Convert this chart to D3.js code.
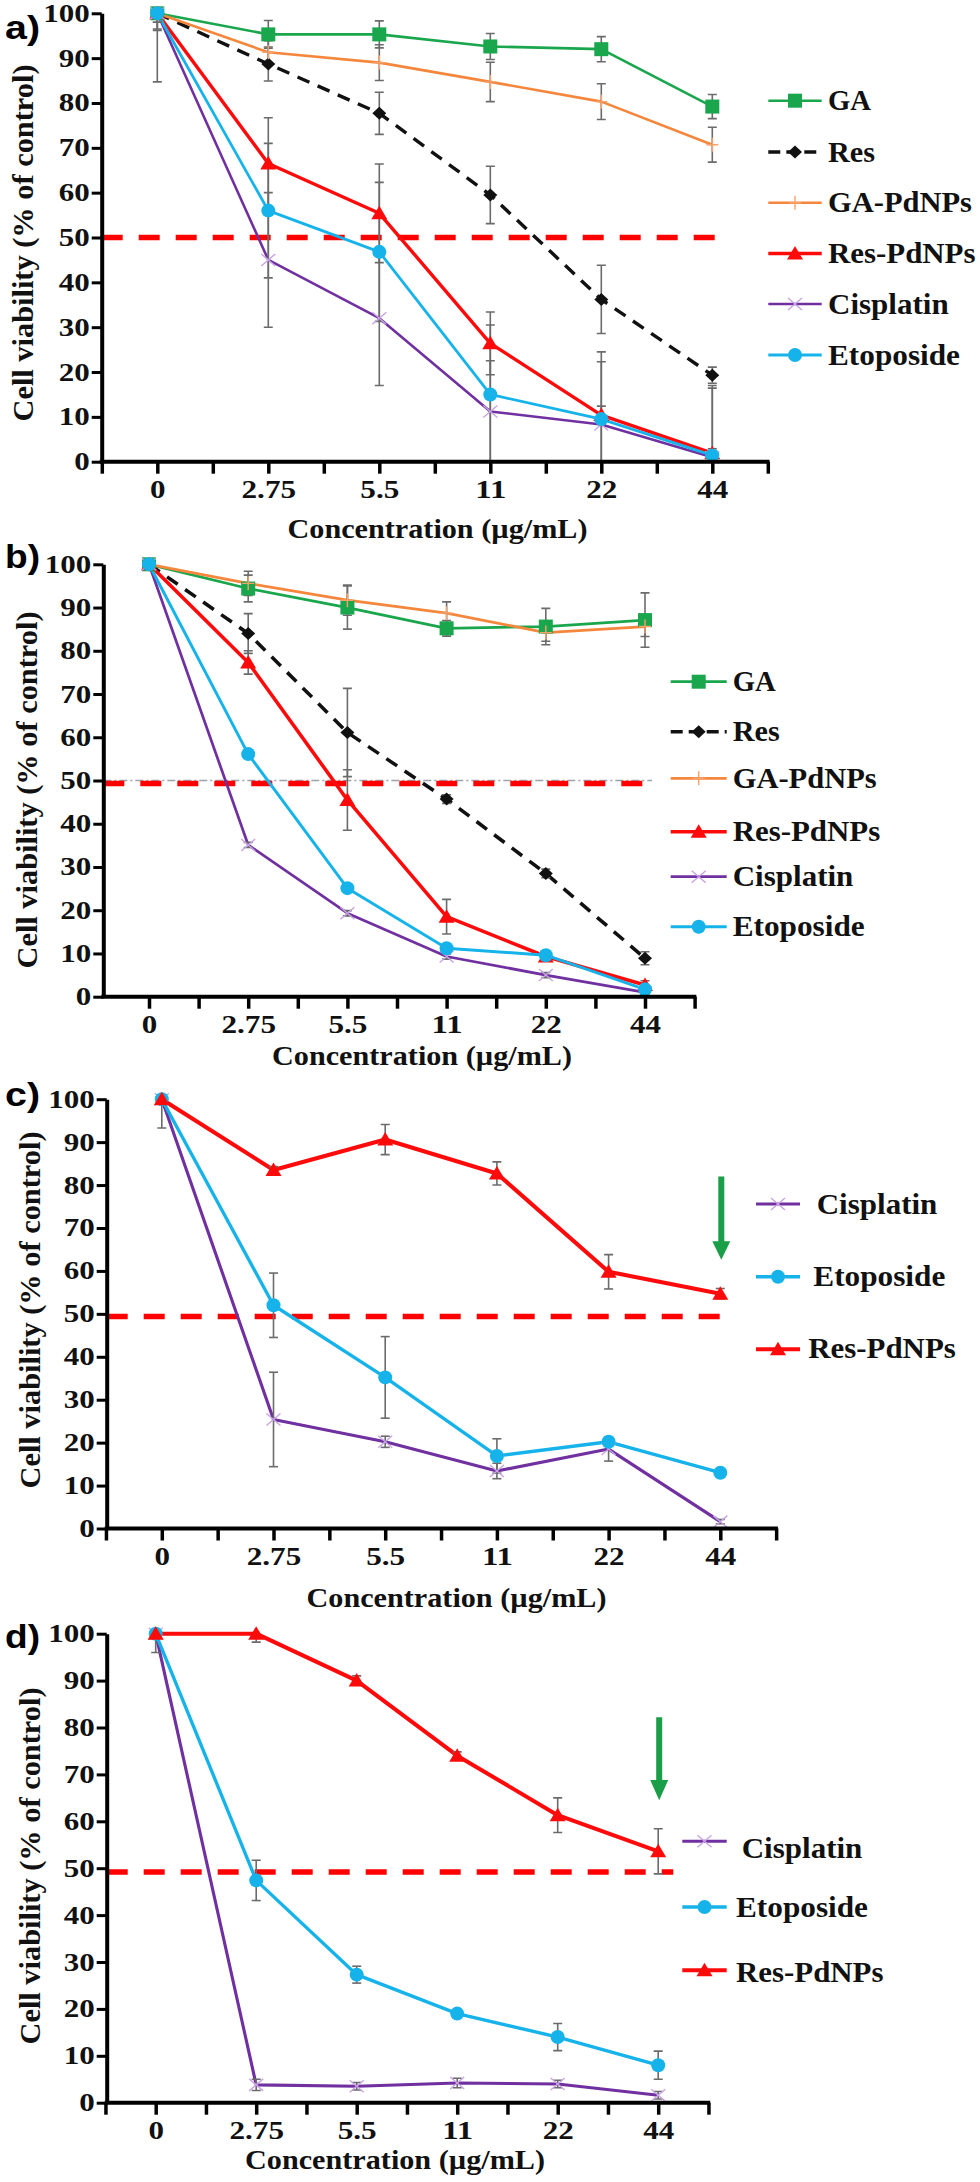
<!DOCTYPE html>
<html>
<head>
<meta charset="utf-8">
<script src="https://cdn.jsdelivr.net/npm/d3@7"></script>
<style>
  body { margin: 0; background: #fff; }
</style>
</head>
<body>
<div id="chart"></div>
<script>
// ---- data ----
const concentrations = ["0", "2.75", "5.5", "11", "22", "44"];
const yTickValues = [0, 10, 20, 30, 40, 50, 60, 70, 80, 90, 100];

// panel a
const aGA      = [100, 95.3, 95.3, 92.6, 92, 79.2];
const aGA_sd   = [3.5, 3.1, 3, 2.9, 2.8, 2.7];
const aRes     = [100, 88.7, 77.7, 59.5, 36.2, 19.3];
const aRes_sd  = [3.8, 3.8, 4.7, 6.4, 7.6, 1.8];
const aGAPd    = [100, 91.3, 89, 84.7, 80.3, 70.7];
const aGAPd_sd = [2, 2.6, 4, 4.4, 4, 3.9];
const aResPd   = [100, 66.5, 55.4, 26.4, 10.4, 1.9];
const aResPd_sd = [1, 10.2, 11, 7, 2, 1];
const aCis     = [100, 45, 32, 11.2, 8.3, 1];
const aCis_sd  = [15.3, 15, 15, 11.3, 14, 16];
const aEto     = [100, 56, 46.8, 15, 9.5, 1.4];
const aEto_sd  = [2, 15, 15.5, 15.5, 15, 15];

// panel b
const bGA      = [100, 94.4, 90, 85.2, 85.6, 87.1];
const bGA_sd   = [1, 3.1, 5, 1.8, 4.2, 6.3];
const bRes     = [100, 84, 61.1, 45.7, 28.5, 8.9];
const bRes_sd  = [1, 4.6, 10.2, 1, 1, 1.5];
const bGAPd    = [100, 95.6, 91.7, 88.7, 84.2, 85.6];
const bGAPd_sd = [1, 2.8, 3.5, 2.6, 2, 2.3];
const bResPd   = [100, 77.3, 45.5, 18.5, 9.3, 2.7];
const bResPd_sd = [1, 2.7, 7, 4, 1, 1];
const bCis     = [100, 35.1, 19.3, 9.3, 5, 1];
const bCis_sd  = [1, 0.6, 0.6, 0.6, 0.6, 0.6];
const bEto     = [100, 56.1, 25.1, 11.2, 9.6, 1.7];
const bEto_sd  = [1, 0.6, 0.6, 0.6, 0.6, 0.6];

// panel c
const cCis     = [100, 25.4, 20.2, 13.4, 18.5, 1.6];
const cCis_sd  = [6.7, 11, 1.3, 1.8, 2.8, 0.5];
const cEto     = [100, 52, 35.2, 16.9, 20.2, 13];
const cEto_sd  = [1, 7.5, 9.5, 4, 1, 0.8];
const cResPd   = [100, 83.5, 90.6, 82.7, 59.8, 54.7];
const cResPd_sd = [1, 0.8, 3.5, 2.7, 4, 1.2];

// panel d
const dCis     = [100, 3.8, 3.5, 4.2, 4, 1.6];
const dCis_sd  = [4, 1.2, 0.8, 1, 0.8, 0.8];
const dEto     = [100, 47.4, 27.3, 19, 14, 8];
const dEto_sd  = [1, 4.3, 1.8, 0.8, 2.9, 3];
const dResPd   = [100, 100, 90, 74, 61.3, 53.6];
const dResPd_sd = [1, 1.8, 1, 0.8, 3.7, 4.8];

// ---- styles ----
const styles = {
  "GA":        { color: "#1aa64d", width: 2.6, marker: "square", legendLen: 43 },
  "Res":       { color: "#111111", width: 3.4, dash: "13,9", marker: "diamond", legendLen: 47 },
  "GA-PdNPs":  { color: "#f5873d", width: 2.6, marker: "plus", legendLen: 144 },
  "Res-PdNPs": { color: "#ff0a0a", width: 3.4, marker: "triangle", legendLen: 147.5 },
  "Cisplatin": { color: "#7030a0", width: 2.6, marker: "asterisk", legendLen: 120.7 },
  "Etoposide": { color: "#16b3ea", width: 2.8, marker: "circle", legendLen: 132 }
};

const panels = [
  {
    label: "a)", labelY: 39,
    series: [
      { name: "GA", values: aGA, sd: aGA_sd },
      { name: "Res", values: aRes, sd: aRes_sd },
      { name: "GA-PdNPs", values: aGAPd, sd: aGAPd_sd },
      { name: "Res-PdNPs", values: aResPd, sd: aResPd_sd },
      { name: "Cisplatin", values: aCis, sd: aCis_sd },
      { name: "Etoposide", values: aEto, sd: aEto_sd }
    ],
    yAxisX: 101.7, x0: 157.3, step: 111, y100: 13.3, y0: 461.7, lw: 1,
    cutValue: 50, cutEnd: 5.16,
    legend: { x1: 768.3, x2: 821.7, textX: [828, 828, 828, 828, 828, 828],
              lineY: [100.7, 152, 202.8, 253.5, 304, 355], textY: [100.7, 152, 202.8, 253.5, 304, 355] },
    titleX: 287.5, titleY: 538, yTitleX: 33, yTitleY: 243
  },
  {
    label: "b)", labelY: 568,
    series: [
      { name: "GA", values: bGA, sd: bGA_sd },
      { name: "Res", values: bRes, sd: bRes_sd },
      { name: "GA-PdNPs", values: bGAPd, sd: bGAPd_sd },
      { name: "Res-PdNPs", values: bResPd, sd: bResPd_sd },
      { name: "Cisplatin", values: bCis, sd: bCis_sd },
      { name: "Etoposide", values: bEto, sd: bEto_sd }
    ],
    yAxisX: 103.3, x0: 149, step: 99.2, y100: 564.3, y0: 996.7, lw: 1.05,
    cutValue: 49.3, cutEnd: 5.07, guide50: true,
    legend: { x1: 670.7, x2: 726.7, textX: [732.7, 732.7, 732.7, 732.7, 732.7, 732.7],
              lineY: [681.7, 731.7, 778.3, 831.7, 876.7, 926.7], textY: [681.7, 731.7, 778.3, 831.7, 876.7, 926.7] },
    titleX: 272, titleY: 1065, yTitleX: 36.5, yTitleY: 790
  },
  {
    label: "c)", labelY: 1106,
    series: [
      { name: "Cisplatin", values: cCis, sd: cCis_sd },
      { name: "Etoposide", values: cEto, sd: cEto_sd },
      { name: "Res-PdNPs", values: cResPd, sd: cResPd_sd }
    ],
    yAxisX: 106.7, x0: 161.8, step: 111.7, y100: 1099.2, y0: 1528.5, lw: 1.2,
    cutValue: 49.4, cutEnd: 5.06, arrow: { top: 82, head: 66.9, tip: 62.6 },
    legend: { x1: 756, x2: 800, textX: [816.7, 813.3, 808.3],
              lineY: [1204, 1276.7, 1349.3], textY: [1204, 1276, 1348.5] },
    titleX: 306.5, titleY: 1607, yTitleX: 40, yTitleY: 1310
  },
  {
    label: "d)", labelY: 1648,
    series: [
      { name: "Cisplatin", values: dCis, sd: dCis_sd },
      { name: "Etoposide", values: dEto, sd: dEto_sd },
      { name: "Res-PdNPs", values: dResPd, sd: dResPd_sd }
    ],
    yAxisX: 106.7, x0: 155.7, step: 100.5, y100: 1633.7, y0: 2102.7, lw: 1.2,
    cutValue: 49.2, cutEnd: 5.15, arrow: { top: 82.2, head: 68.8, tip: 64.5 },
    legend: { x1: 682.3, x2: 726.7, textX: [741.7, 736, 736],
              lineY: [1841.3, 1907, 1970.3], textY: [1848.7, 1907.5, 1972] },
    titleX: 245, titleY: 2168.7, yTitleX: 40, yTitleY: 1866
  }
];

const minorTicks = [-0.5, 0.5, 1.5, 2.5, 3.5, 4.5, 5.5];
const serif = "'Liberation Serif', 'Times New Roman', 'DejaVu Serif', serif";

// width of a number label in the original's wide bold serif
function numberWidth(str) {
  let w = 0;
  for (const ch of str) w += ch === "." ? 8 : 15.5;
  return w;
}

const svg = d3.select("#chart").append("svg")
  .attr("width", 980)
  .attr("height", 2182)
  .style("background", "#fff");

// bold serif text forced to the width it has in the original
function sText(g, x, y, str, size, len, anchor) {
  return g.append("text")
    .attr("x", x).attr("y", y)
    .attr("text-anchor", anchor || "start")
    .attr("font-family", serif)
    .attr("font-weight", "bold")
    .attr("font-size", size)
    .attr("fill", "#111")
    .attr("textLength", len)
    .attr("lengthAdjust", "spacingAndGlyphs")
    .text(str);
}

function drawMarker(g, type, cx, cy, st) {
  const m = g.append("g").attr("transform", `translate(${cx},${cy})`);
  if (type === "square") {
    m.append("rect").attr("x", -7).attr("y", -7).attr("width", 14).attr("height", 14).attr("fill", st.color);
  } else if (type === "diamond") {
    m.append("path").attr("d", "M0,-6.5L7,0L0,6.5L-7,0Z").attr("fill", st.color);
  } else if (type === "triangle") {
    m.append("path").attr("d", "M0,-7.5L8,6L-8,6Z").attr("fill", st.color);
  } else if (type === "circle") {
    m.append("circle").attr("r", 7).attr("fill", st.color);
  } else if (type === "plus") {
    m.append("path").attr("d", "M-6,0H6M0,-7V7").attr("stroke", "#f8a26a").attr("stroke-width", 1.4).attr("fill", "none");
  } else if (type === "asterisk") {
    m.append("path").attr("d", "M-7,-6L7,6M-7,6L7,-6").attr("stroke", "#c9a3e6").attr("stroke-width", 1.4).attr("fill", "none");
  }
}

panels.forEach((p, pi) => {
  const g = svg.append("g");
  const x = d3.scaleLinear().domain([0, 5]).range([p.x0, p.x0 + 5 * p.step]);
  const y = d3.scaleLinear().domain([0, 100]).range([p.y0, p.y100]);

  // clip for error bars (they are cut at 0 and 100)
  const clipId = "clip" + pi;
  svg.append("clipPath").attr("id", clipId)
    .append("rect")
    .attr("x", p.yAxisX).attr("y", y(100))
    .attr("width", x(5.5) - p.yAxisX).attr("height", y(0) - y(100));

  // 50 % reference line(s)
  if (p.guide50) {
    g.append("line")
      .attr("x1", p.yAxisX).attr("x2", x(p.cutEnd))
      .attr("y1", y(50)).attr("y2", y(50))
      .attr("stroke", "#9aa4ad").attr("stroke-width", 1.5)
      .attr("stroke-dasharray", "8,3,2,3");
  }
  g.append("line")
    .attr("x1", p.yAxisX).attr("x2", x(p.cutEnd))
    .attr("y1", y(p.cutValue)).attr("y2", y(p.cutValue))
    .attr("stroke", "#ff0000").attr("stroke-width", 5.5)
    .attr("stroke-dasharray", "21,16");

  // series lines
  const line = d3.line().x((d, i) => x(i)).y(d => y(d));
  p.series.forEach(s => {
    const st = styles[s.name];
    g.append("path")
      .datum(s.values)
      .attr("d", line)
      .attr("fill", "none")
      .attr("stroke", st.color)
      .attr("stroke-width", st.width * p.lw)
      .attr("stroke-dasharray", st.dash || null)
      .attr("stroke-linejoin", "round");
  });

  // error bars
  const eb = g.append("g").attr("clip-path", `url(#${clipId})`)
    .attr("stroke", "#6b6b6b").attr("stroke-width", 1.6).attr("fill", "none");
  p.series.forEach(s => {
    s.values.forEach((v, i) => {
      const sd = s.sd[i];
      if (!sd) return;
      const cx = x(i), top = y(v + sd), bot = y(v - sd);
      eb.append("line").attr("x1", cx).attr("x2", cx).attr("y1", top).attr("y2", bot);
      eb.append("line").attr("x1", cx - 4.5).attr("x2", cx + 4.5).attr("y1", top).attr("y2", top);
      eb.append("line").attr("x1", cx - 4.5).attr("x2", cx + 4.5).attr("y1", bot).attr("y2", bot);
    });
  });

  // markers
  p.series.forEach(s => {
    const st = styles[s.name];
    s.values.forEach((v, i) => drawMarker(g, st.marker, x(i), y(v), st));
  });

  // y axis
  const yAxis = g.append("g")
    .attr("transform", `translate(${p.yAxisX},0)`)
    .call(d3.axisLeft(y).tickValues(yTickValues).tickSize(10).tickSizeOuter(0));
  yAxis.select(".domain").attr("stroke", "#000").attr("stroke-width", 4);
  yAxis.selectAll(".tick line").attr("stroke", "#000").attr("stroke-width", 3);
  yAxis.selectAll(".tick text")
    .attr("x", -12).attr("dy", null).attr("y", 8)
    .attr("font-family", serif).attr("font-weight", "bold")
    .attr("font-size", 24.5).attr("fill", "#111")
    .attr("textLength", d => numberWidth(String(d)))
    .attr("lengthAdjust", "spacingAndGlyphs");

  // x axis: major ticks with labels, minor ticks in between
  const xAxis = g.append("g")
    .attr("transform", `translate(0,${p.y0})`)
    .call(d3.axisBottom(x).tickValues([0, 1, 2, 3, 4, 5])
      .tickFormat(i => concentrations[i]).tickSize(12).tickSizeOuter(0));
  xAxis.select(".domain").remove();
  xAxis.selectAll(".tick line").attr("stroke", "#000").attr("stroke-width", 3.5);
  xAxis.selectAll(".tick text")
    .attr("y", 36.5).attr("dy", null)
    .attr("font-family", serif).attr("font-weight", "bold")
    .attr("font-size", 24.5).attr("fill", "#111")
    .attr("textLength", i => numberWidth(concentrations[i]))
    .attr("lengthAdjust", "spacingAndGlyphs");

  const minor = g.append("g")
    .attr("transform", `translate(0,${p.y0})`)
    .call(d3.axisBottom(x).tickValues(minorTicks.filter(t => x(t) >= p.yAxisX - 2))
      .tickFormat("").tickSize(12).tickSizeOuter(0));
  minor.select(".domain").remove();
  minor.selectAll(".tick line").attr("stroke", "#000").attr("stroke-width", 3.5);

  g.append("line")
    .attr("x1", p.yAxisX - 2).attr("x2", x(5.5) + 1.75)
    .attr("y1", p.y0).attr("y2", p.y0)
    .attr("stroke", "#000").attr("stroke-width", 4);

  // green arrow pointing at the 44 µg/mL point
  if (p.arrow) {
    const ax = x(5) + 1;
    const yt = y(p.arrow.top), yh = y(p.arrow.head), yp = y(p.arrow.tip);
    g.append("path")
      .attr("d", `M${ax - 3},${yt}L${ax + 3},${yt}L${ax + 3},${yh}L${ax + 9},${yh}L${ax},${yp}L${ax - 9},${yh}L${ax - 3},${yh}Z`)
      .attr("fill", "#1a9e47");
  }

  // legend
  p.series.forEach((s, i) => {
    const st = styles[s.name];
    const ly = p.legend.lineY[i];
    g.append("line")
      .attr("x1", p.legend.x1).attr("x2", p.legend.x2)
      .attr("y1", ly).attr("y2", ly)
      .attr("stroke", st.color)
      .attr("stroke-width", st.width * p.lw)
      .attr("stroke-dasharray", st.dash ? "12,6" : null);
    drawMarker(g, st.marker, (p.legend.x1 + p.legend.x2) / 2, ly, st);
    sText(g, p.legend.textX[i], p.legend.textY[i] + 9.6, s.name, 29, st.legendLen, "start");
  });

  // axis titles and panel letter
  sText(g, p.titleX, p.titleY, "Concentration (µg/mL)", 27.5, 300, "start");
  g.append("text")
    .attr("transform", `translate(${p.yTitleX},${p.yTitleY}) rotate(-90)`)
    .attr("x", -178.5)
    .attr("font-family", serif).attr("font-weight", "bold")
    .attr("font-size", 30).attr("fill", "#111")
    .attr("textLength", 357)
    .attr("lengthAdjust", "spacingAndGlyphs")
    .text("Cell viability (% of control)");
  g.append("text")
    .attr("x", 5).attr("y", p.labelY)
    .attr("font-family", "'Liberation Sans', Arial, sans-serif")
    .attr("font-weight", "bold").attr("font-size", 34).attr("fill", "#000")
    .attr("textLength", 35)
    .attr("lengthAdjust", "spacingAndGlyphs")
    .text(p.label);
});
</script>
</body>
</html>
